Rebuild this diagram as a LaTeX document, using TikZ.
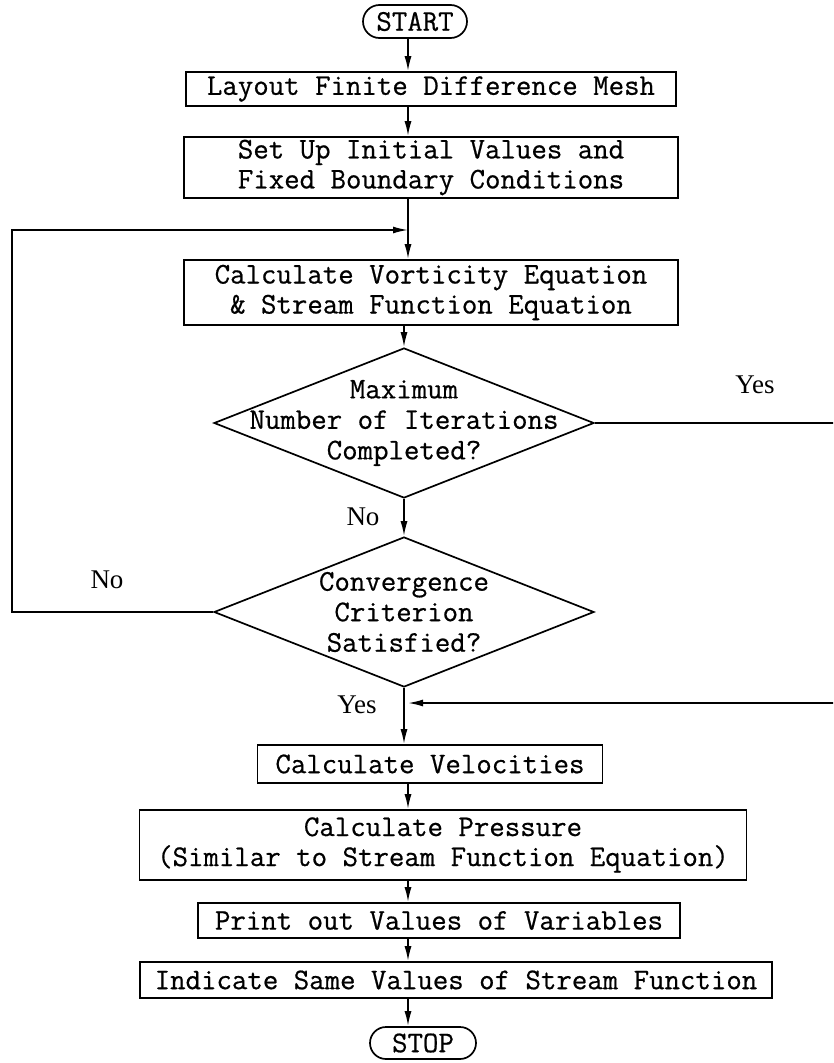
\documentclass[tikz,border=0pt]{standalone}
\usepackage{fontspec}
\newfontfamily\typer{Latin Modern Mono}[FakeBold=0.6]
\newfontfamily\labeler{Liberation Serif}
\usepackage{tikz}
\usetikzlibrary{arrows.meta, positioning, shapes.geometric, shapes.misc}

\begin{document}
\begin{tikzpicture}[x=1pt, y=1pt,
        process/.style={rectangle, draw=black, line width=1.7pt, align=center, inner xsep=4pt, inner ysep=2pt, font=\typer\fontsize{30}{30}\selectfont},
        terminal/.style={rounded rectangle, draw=black, line width=1.7pt, minimum width=106pt, minimum height=33pt, inner sep=1pt, font=\typer\fontsize{30}{30}\selectfont},
        decision/.style={diamond, draw=black, line width=1.7pt, minimum width=380pt, minimum height=150pt, inner sep=0pt},
        decisiontext/.style={align=center, font=\typer\fontsize{30}{30.5}\selectfont},
        answer/.style={font=\labeler\fontsize{27}{30}\selectfont},
        relation/.style={-{Latex[length=15pt, width=7pt]}, line width=1.7pt}
    ]
        \useasboundingbox (0,0) rectangle (833,-1063);
        \clip (0,0) rectangle (833,-1063);

        % Steps
        \node[terminal] (start) at (415,-21.5) {START};
        \node[process, minimum width=490pt, minimum height=34pt] (mesh) at (431,-89) {Layout Finite Difference Mesh};
        \node[process, minimum width=494pt, minimum height=61pt] (init) at (431,-167.5) {Set Up Initial Values and\\Fixed Boundary Conditions};
        \node[process, minimum width=494pt, minimum height=65pt] (vort) at (431,-292.5) {Calculate Vorticity Equation\\\& Stream Function Equation};
        \node[decision, label={[decisiontext]center:Maximum\\Number of Iterations\\Completed?}] (maxit) at (404,-423) {};
        \node[decision, label={[decisiontext]center:Convergence\\Criterion\\Satisfied?}] (conv) at (404,-612) {};
        \node[process, minimum width=345pt, minimum height=38pt] (vel) at (430,-764) {Calculate Velocities};
        \node[process, minimum width=607pt, minimum height=70pt] (press) at (443,-845) {Calculate Pressure\\(Similar to Stream Function Equation)};
        \node[process, minimum width=482pt, minimum height=35pt] (print) at (439,-920.5) {Print out Values of Variables};
        \node[process, minimum width=632pt, minimum height=36pt] (stream) at (456,-980) {Indicate Same Values of Stream Function};
        \node[terminal, minimum width=108pt, minimum height=32pt] (stop) at (423,-1043) {STOP};

        % Answers
        \node[answer] (yesmax) at (755,-385) {Yes};
        \node[answer] (nomax) at (363,-517) {No};
        \node[answer] (noconv) at (107,-580) {No};
        \node[answer] (yesconv) at (357,-705) {Yes};

        % Joins
        \coordinate (axis) at (408,0);
        \coordinate (loopin) at (408,-230);
        \coordinate (yesin) at (408,-703);
        \coordinate (leftrail) at (12,0);
        \coordinate (rightrail) at (845,0);

        % Relations
        \draw[relation] (start.south -| axis) -- (mesh.north -| axis);
        \draw[relation] (mesh.south -| axis) -- (init.north -| axis);
        \draw[relation] (init.south -| axis) -- (vort.north -| axis);
        \draw[relation] (vort.south -| maxit) -- (maxit);
        \draw[relation] (maxit) -- (conv);
        \draw[relation] (conv) -- (vel.north -| conv);
        \draw[relation] (vel.south -| axis) -- (press.north -| axis);
        \draw[relation] (press.south -| axis) -- (print.north -| axis);
        \draw[relation] (print.south -| axis) -- (stream.north -| axis);
        \draw[relation] (stream.south -| axis) -- (stop.north -| axis);
        \draw[relation] (conv.west) -- (conv.west -| leftrail) |- (loopin);
        \draw[relation] (maxit.east) -- (maxit.east -| rightrail) |- (yesin);
    \end{tikzpicture}
\end{document}
